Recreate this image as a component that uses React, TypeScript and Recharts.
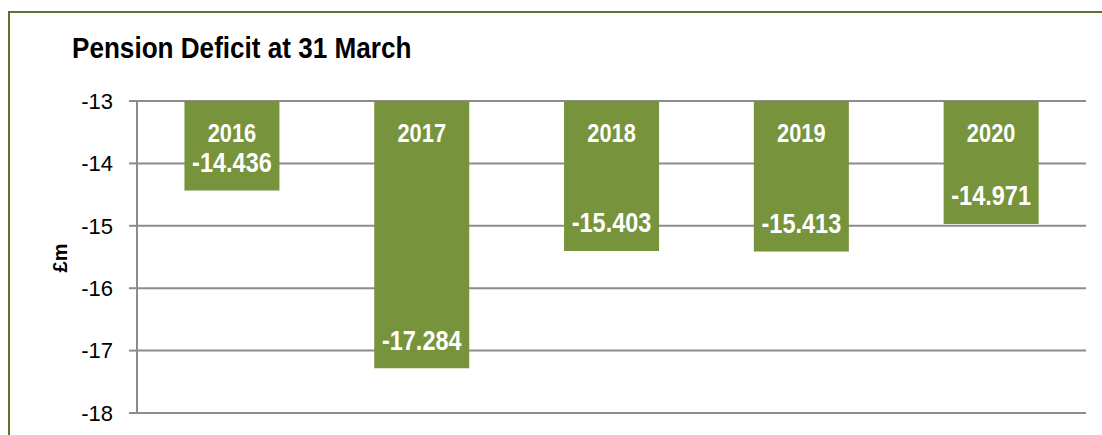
import React from 'react';
import { BarChart, Bar, XAxis, YAxis, CartesianGrid, LabelList, Label } from 'recharts';

const years = ['2016', '2017', '2018', '2019', '2020'];
const deficits = [-14.436, -17.284, -15.403, -15.413, -14.971];
const yTicks = [-18, -17, -16, -15, -14, -13];

const data = years.map((y, i) => ({ year: y, value: deficits[i] }));

const FONT = "'Liberation Sans Narrow', 'Arial Narrow', 'Liberation Sans', Arial, sans-serif";
const GREEN = '#77933C';
const GRID = '#8c8c8c';
const SQUEEZE = 0.84;

const TopTick = (props: any) => {
  const { x, y, payload, index } = props;
  const off = payload && payload.offset ? payload.offset : 0;
  return (
    <g>
      {index === 0 ? <line x1={x - off} x2={x - off} y1={y} y2={y + 8} stroke={GRID} strokeWidth={2} /> : null}
      <line x1={x + off} x2={x + off} y1={y} y2={y + 8} stroke={GRID} strokeWidth={2} />
    </g>
  );
};

const NarrowText = ({ cx, cy, size, children }: any) => (
  <text
    transform={`translate(${cx} ${cy}) scale(${SQUEEZE} 1)`}
    x={0}
    y={0}
    textAnchor="middle"
    dominantBaseline="middle"
    fill="#fff"
    fontFamily={FONT}
    fontWeight="bold"
    fontSize={size}
  >
    {children}
  </text>
);

const BarLabels = (props: any) => {
  const { x, y, width, height, index } = props;
  const top = Math.min(y, y + height);
  const bottom = Math.max(y, y + height);
  const cx = x + width / 2;
  return (
    <g>
      <NarrowText cx={cx} cy={top + 34} size={26}>{years[index]}</NarrowText>
      <NarrowText cx={cx} cy={bottom - 26} size={28}>{deficits[index].toFixed(3)}</NarrowText>
    </g>
  );
};

export default function App() {
  return (
    <div style={{ position: 'fixed', left: 0, top: 0, width: 1102, height: 435, background: '#fff', overflow: 'hidden' }}>
      <div style={{ position: 'absolute', left: 8, top: 11, width: 1200, height: 600, borderLeft: '2px solid #5a7330', borderTop: '2px solid #5a7330' }} />
      <div style={{ position: 'absolute', left: 72, top: 32, fontFamily: FONT, fontWeight: 'bold', fontSize: 29, color: '#000', whiteSpace: 'nowrap', transform: 'scaleX(0.9)', transformOrigin: '0 0' }}>
        Pension Deficit at 31 March
      </div>
      <div style={{ position: 'absolute', left: 0, top: 0 }}>
        <BarChart width={1102} height={435} data={data} margin={{ top: 101, right: 16, bottom: 22, left: 0 }} barCategoryGap="25%">
          <CartesianGrid vertical={false} stroke={GRID} strokeWidth={2} />
          <XAxis dataKey="year" orientation="top" height={0} axisLine={{ stroke: GRID, strokeWidth: 2 }} tickLine={false} tick={<TopTick />} interval={0} />
          <YAxis
            type="number"
            domain={[-18, -13]}
            ticks={yTicks}
            width={137}
            axisLine={{ stroke: GRID, strokeWidth: 2 }}
            tickLine={{ stroke: GRID, strokeWidth: 2 }}
            tickSize={8}
            tickMargin={16}
            tick={{ fill: '#000', fontFamily: FONT, fontSize: 22 }}
            allowDataOverflow
          >
            <Label
              content={() => (
                <text x={62} y={258} transform="rotate(-90 62 258)" textAnchor="middle" dominantBaseline="middle" fontFamily={FONT} fontWeight="bold" fontSize={20} fill="#000">
                  £m
                </text>
              )}
            />
          </YAxis>
          <Bar dataKey="value" fill={GREEN} isAnimationActive={false}>
            <LabelList dataKey="value" content={<BarLabels />} />
          </Bar>
        </BarChart>
      </div>
    </div>
  );
}
